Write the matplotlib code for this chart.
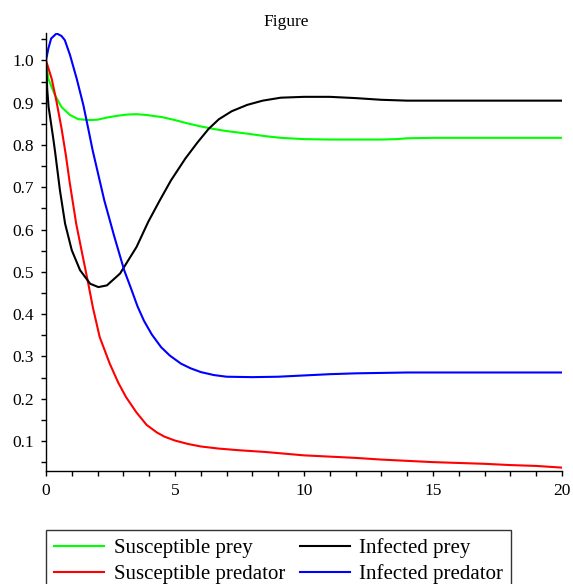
import matplotlib
matplotlib.use("Agg")
import matplotlib.pyplot as plt
from matplotlib.ticker import MultipleLocator

plt.rcParams['font.family'] = ['Liberation Serif', 'DejaVu Serif']

# values
t_sprey = [0, 0.09, 0.2, 0.35, 0.6, 0.93, 1.26, 1.71, 2.0, 2.36, 2.75, 3.13, 3.5, 3.9,
           4.5, 5.0, 5.5, 6.0, 6.5, 7, 7.8, 8.5, 9.1, 10, 11, 12, 13, 13.6, 14, 15, 17, 20]
s_prey = [1.0, 0.957, 0.94, 0.918, 0.89, 0.871, 0.861, 0.859, 0.86, 0.865, 0.869,
          0.872, 0.873, 0.871, 0.866, 0.859, 0.851, 0.844, 0.838, 0.833, 0.827, 0.821,
          0.817, 0.814, 0.813, 0.813, 0.813, 0.814, 0.816, 0.817, 0.817, 0.817]

t_iprey = [0, 0.05, 0.1, 0.15, 0.28, 0.35, 0.54, 0.74, 1.0, 1.32, 1.71, 2.03, 2.36,
           2.87, 3.51, 3.96, 4.4, 4.84, 5.4, 5.87, 6.3, 6.7, 7.2, 7.8, 8.4, 9.1, 10,
           11, 12, 13, 14, 16, 20]
i_prey = [1.0, 0.93, 0.89, 0.87, 0.816, 0.785, 0.693, 0.614, 0.551, 0.504, 0.472,
          0.464, 0.468, 0.496, 0.559, 0.618, 0.668, 0.716, 0.768, 0.806, 0.838, 0.861,
          0.880, 0.895, 0.905, 0.912, 0.914, 0.914, 0.911, 0.907, 0.905, 0.905, 0.905]

t_spred = [0, 0.22, 0.41, 0.6, 0.77, 0.91, 1.17, 1.43, 1.63, 1.82, 2.08, 2.47, 2.8,
           3.1, 3.5, 3.9, 4.3, 4.6, 5.0, 5.5, 6.0, 6.7, 7.5, 8.5, 10, 11, 12, 13, 14,
           15, 16, 17, 18, 19, 20]
s_pred = [1.0, 0.957, 0.902, 0.84, 0.776, 0.715, 0.614, 0.535, 0.475, 0.415, 0.346,
          0.283, 0.238, 0.204, 0.168, 0.138, 0.12, 0.11, 0.101, 0.093, 0.087, 0.082,
          0.078, 0.074, 0.066, 0.063, 0.06, 0.056, 0.053, 0.05, 0.048, 0.046, 0.043,
          0.041, 0.037]

t_ipred = [0, 0.09, 0.2, 0.41, 0.6, 0.73, 0.93, 1.19, 1.45, 1.64, 1.81, 2.26, 2.65,
           3.03, 3.3, 3.55, 3.8, 4.1, 4.46, 4.8, 5.23, 5.6, 6.0, 6.5, 7.0, 8, 9, 10,
           11, 12, 14, 20]
i_pred = [1.0, 1.028, 1.052, 1.064, 1.058, 1.048, 1.013, 0.957, 0.894, 0.838, 0.787,
          0.669, 0.583, 0.504, 0.46, 0.418, 0.384, 0.352, 0.322, 0.302, 0.283, 0.272,
          0.263, 0.256, 0.252, 0.251, 0.252, 0.255, 0.258, 0.26, 0.262, 0.262]

fig = plt.figure(figsize=(5.73, 5.84), dpi=100)
ax = fig.add_axes([46 / 573, 1 - 471 / 584, (562 - 46) / 573, (471 - 33) / 584])

lw = 1.5
ax.plot(t_sprey, s_prey, color='#00ff00', lw=lw, label='Susceptible prey')
ax.plot(t_spred, s_pred, color='#ff0000', lw=lw, label='Susceptible predator')
ax.plot(t_iprey, i_prey, color='#000000', lw=lw, label='Infected prey')
ax.plot(t_ipred, i_pred, color='#0000ff', lw=lw, label='Infected predator')

ax.set_xlim(0, 20)
ax.set_ylim(0.029, 1.065)
ax.xaxis.set_minor_locator(MultipleLocator(1))
ax.yaxis.set_minor_locator(MultipleLocator(0.05))
ax.set_yticks([0.1 * i for i in range(1, 11)])
ax.set_yticklabels(['%.1f' % (0.1 * i) for i in range(1, 11)])
ax.set_xticks([0, 5, 10, 15, 20])
ax.set_xticklabels(['0', '5', '10', '15', '20'])

for s in ['top', 'right']:
    ax.spines[s].set_visible(False)
for s in ['left', 'bottom']:
    ax.spines[s].set_linewidth(1.0)
ax.tick_params(which='both', direction='out', length=3.5, width=1.0, labelsize=12.5, pad=5)

fig.text(0.5, 1 - 22 / 584, 'Figure', ha='center', va='center', fontsize=12.5)

# column-wise fill gives rows: prey / predator
leg = fig.legend(loc='upper left', bbox_to_anchor=(46 / 573, 1 - 530 / 584),
                 ncol=2, fontsize=15, frameon=True, fancybox=False,
                 handlelength=2.4, handletextpad=0.45, columnspacing=0.7,
                 borderaxespad=0, labelspacing=0.3, borderpad=0.4)
leg.get_frame().set_edgecolor('black')
leg.get_frame().set_linewidth(1.0)
fig.savefig('out.png', dpi=100)
